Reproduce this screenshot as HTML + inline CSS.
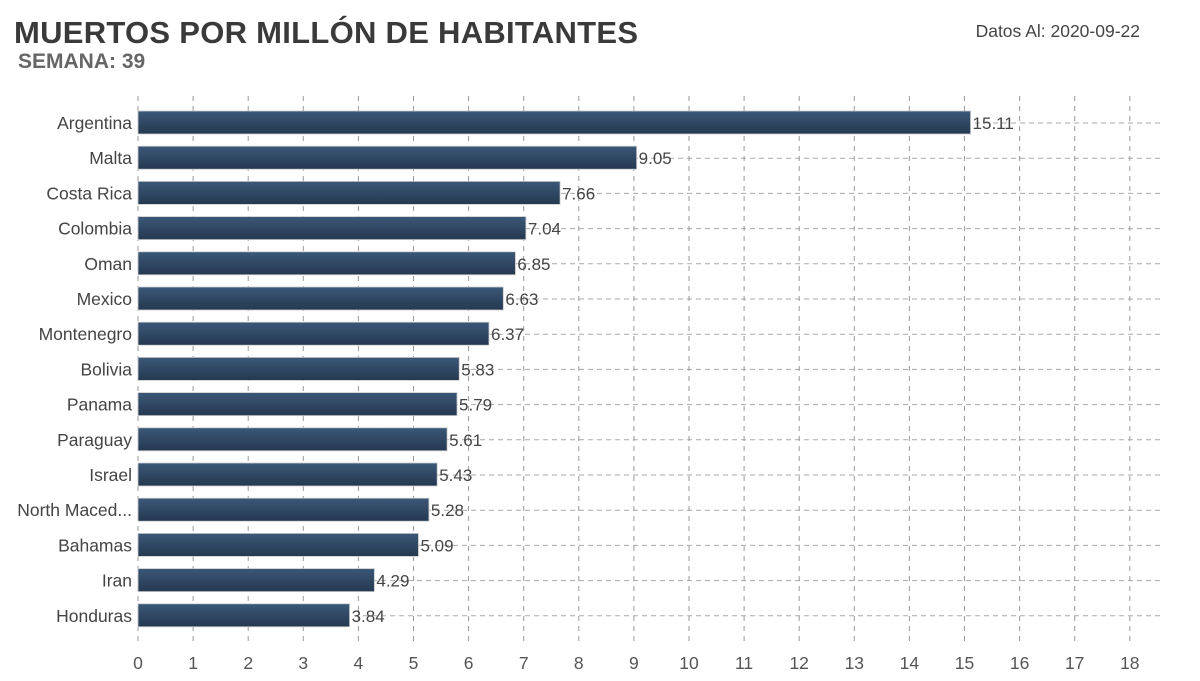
<!DOCTYPE html>
<html><head><meta charset="utf-8"><style>
body{margin:0;background:#fff;width:1200px;height:676px;overflow:hidden;font-family:"Liberation Sans",sans-serif}
</style></head><body>
<svg width="1200" height="676">
<defs><linearGradient id="g" x1="0" y1="0" x2="0" y2="1"><stop offset="0" stop-color="#3b5878"/><stop offset="1" stop-color="#253850"/></linearGradient></defs>
<text x="14" y="43" font-size="31" font-weight="bold" fill="#3a3a3a" textLength="624">MUERTOS POR MILLÓN DE HABITANTES</text>
<text x="18" y="68" font-size="21" font-weight="bold" fill="#666">SEMANA: 39</text>
<text x="1140" y="37" font-size="17.5" fill="#444" text-anchor="end">Datos Al: 2020-09-22</text>
<g id="grid"></g><g id="bars"></g><g id="labels"></g>
</svg>
<script>
const countries=["Argentina","Malta","Costa Rica","Colombia","Oman","Mexico","Montenegro","Bolivia","Panama","Paraguay","Israel","North Maced...","Bahamas","Iran","Honduras"];
const values=[15.11,9.05,7.66,7.04,6.85,6.63,6.37,5.83,5.79,5.61,5.43,5.28,5.09,4.29,3.84];
const ticks=[0,1,2,3,4,5,6,7,8,9,10,11,12,13,14,15,16,17,18];
const NS="http://www.w3.org/2000/svg";
const x=v=>138+v*55.1;
const y=i=>123+i*35.2;
function mk(t,a,p){const e=document.createElementNS(NS,t);for(const k in a)e.setAttribute(k,a[k]);p.appendChild(e);return e;}
const grid=document.getElementById('grid'),bars=document.getElementById('bars'),labels=document.getElementById('labels');
countries.forEach((c,i)=>{
 const l=mk('line',{x1:138,x2:1160,y1:y(i),y2:y(i),stroke:'#aaa','stroke-dasharray':'5,4','stroke-width':1},grid);
 
 
});
ticks.forEach(t=>{
 const l=mk('line',{x1:x(t),x2:x(t),y1:96,y2:645,stroke:'#999','stroke-dasharray':'5,5','stroke-width':1},grid);
 
 
 const tx=mk('text',{x:x(t),y:669,'font-size':17.5,fill:'#555','text-anchor':'middle'},labels);
 tx.textContent=t;
 
 
});
countries.forEach((c,i)=>{
 const r=mk('rect',{x:x(0),y:y(i)-12,width:x(values[i])-x(0),height:23,fill:'url(#g)',stroke:'#ccc','stroke-width':0.8},bars);
 
 
 const n=mk('text',{x:132,y:y(i)+6,'font-size':17.5,fill:'#444','text-anchor':'end'},labels);
 n.textContent=c;
 
 
 const v=mk('text',{x:x(values[i])+2,y:y(i)+6,'font-size':17,fill:'#444'},labels);
 v.textContent=values[i].toFixed(2);
 
 
});
</script>
</body></html>
